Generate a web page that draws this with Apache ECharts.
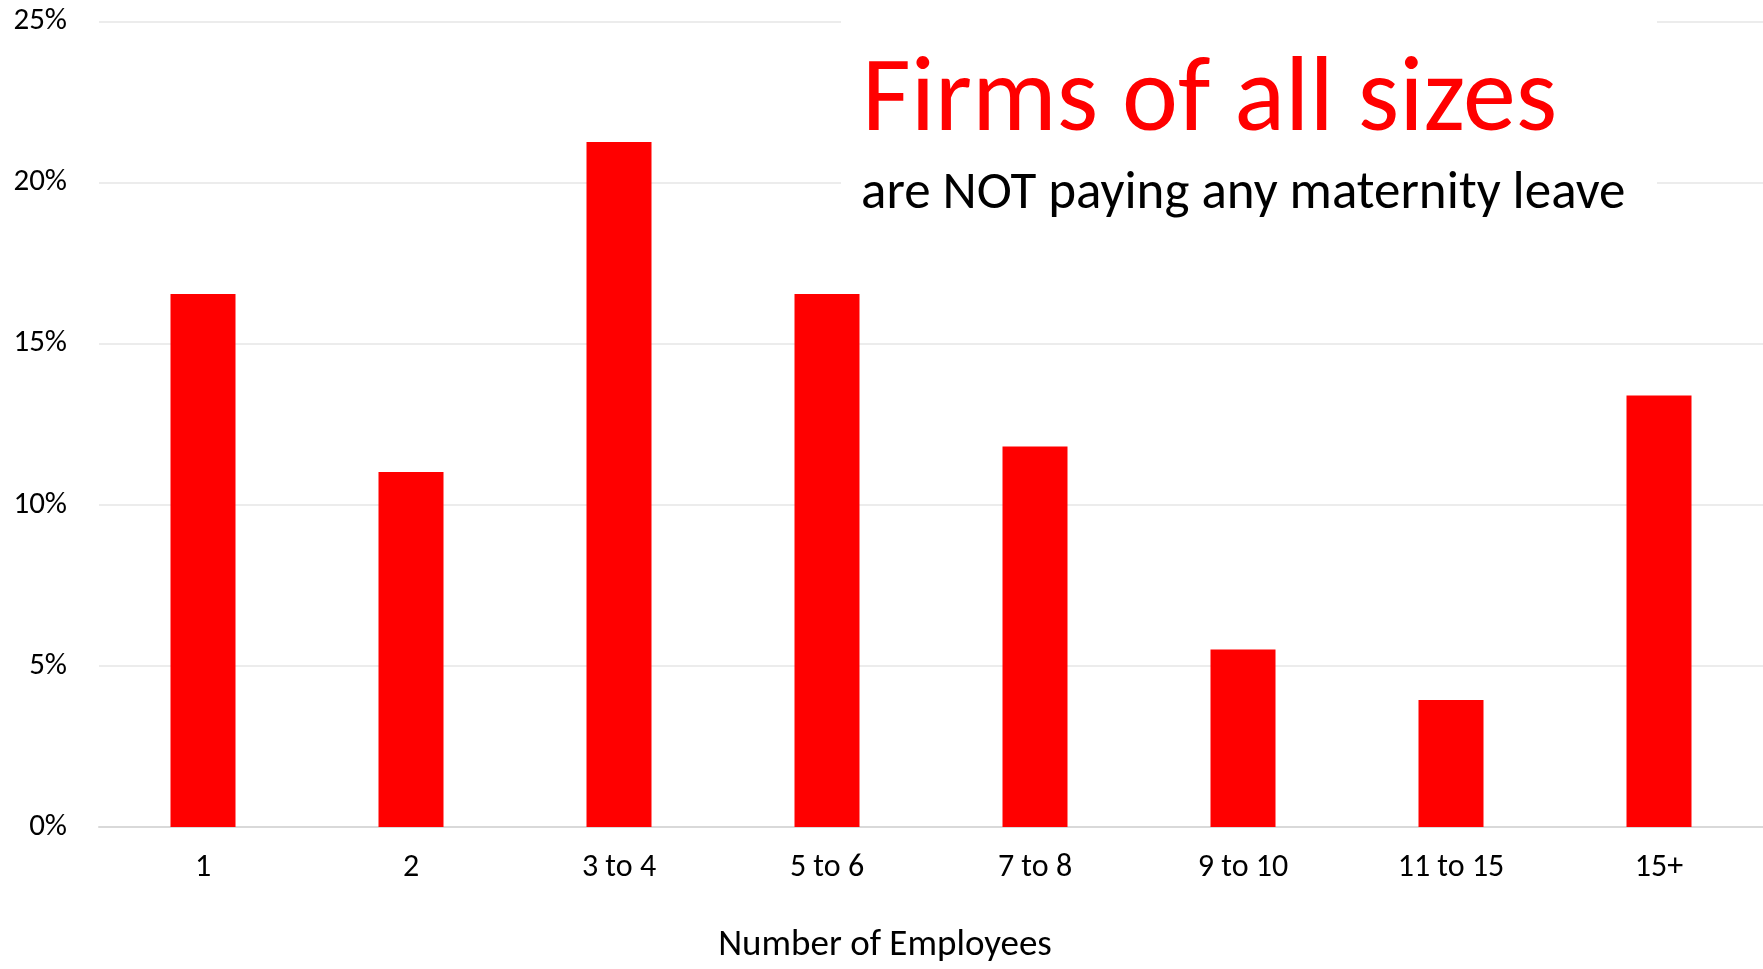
<!DOCTYPE html>
<html>
<head>
<meta charset="utf-8">
<script src="https://cdn.jsdelivr.net/npm/echarts@6/dist/echarts.min.js"></script>
<style>
  html, body { margin: 0; padding: 0; background: #fff; overflow: hidden; }
  #main { width: 100vw; height: 100vh; }
</style>
</head>
<body>
<div id="main"></div>
<script>
// data (share of firms paying no maternity leave)
var categories = ["1", "2", "3 to 4", "5 to 6", "7 to 8", "9 to 10", "11 to 15", "15+"];
var shares = [16.54, 11.02, 21.26, 16.54, 11.81, 5.51, 3.94, 13.39];
var yTicks = [0, 5, 10, 15, 20, 25];

var font = "Carlito, Lato, 'Noto Sans', sans-serif";
var chart = echarts.init(document.getElementById("main"));
// layout was measured on a 969px high picture, scale it to the real height
var k = chart.getHeight() / 969;

var option = {
  animation: false,
  backgroundColor: "#fff",
  grid: { left: 99, right: 0, top: 21.5 * k, height: 807.5 * k, containLabel: false },
  xAxis: {
    type: "category",
    data: categories,
    name: "Number of Employees",
    nameLocation: "middle",
    nameGap: 100 * k,
    // axis title sits left of the plot centre in the original
    nameTextStyle: { fontFamily: font, fontSize: 37, color: "#000", padding: [0, 92, 0, 0] },
    axisLine: { lineStyle: { color: "#d9d9d9", width: 2 } },
    axisTick: { show: false },
    axisLabel: { fontFamily: font, fontSize: 32, color: "#000", margin: 25 * k }
  },
  yAxis: {
    type: "value",
    min: yTicks[0],
    max: yTicks[yTicks.length - 1],
    interval: 5,
    axisLine: { show: false },
    axisTick: { show: false },
    axisLabel: { fontFamily: font, fontSize: 31, color: "#000", margin: 32, formatter: "{value}%" },
    splitLine: { lineStyle: { color: "#ececec", width: 2 } }
  },
  series: [{
    type: "bar",
    data: shares,
    barWidth: 65,
    itemStyle: { color: "#ff0000" }
  }],
  graphic: [
    // white box behind the headline hides the grid lines
    { type: "rect", shape: { x: 841, y: 0, width: 816, height: 235 * k }, style: { fill: "#fff" }, z: 100 },
    { type: "text", x: 862, y: 50 * k, z: 101,
      style: { text: "Firms of all sizes", fill: "#ff0000", font: "106px " + font, textVerticalAlign: "top" } },
    { type: "text", x: 861, y: 168 * k, z: 101,
      style: { text: "are NOT paying any maternity leave", fill: "#000", font: "53px " + font, textVerticalAlign: "top" } }
  ]
};

chart.setOption(option);
</script>
</body>
</html>
